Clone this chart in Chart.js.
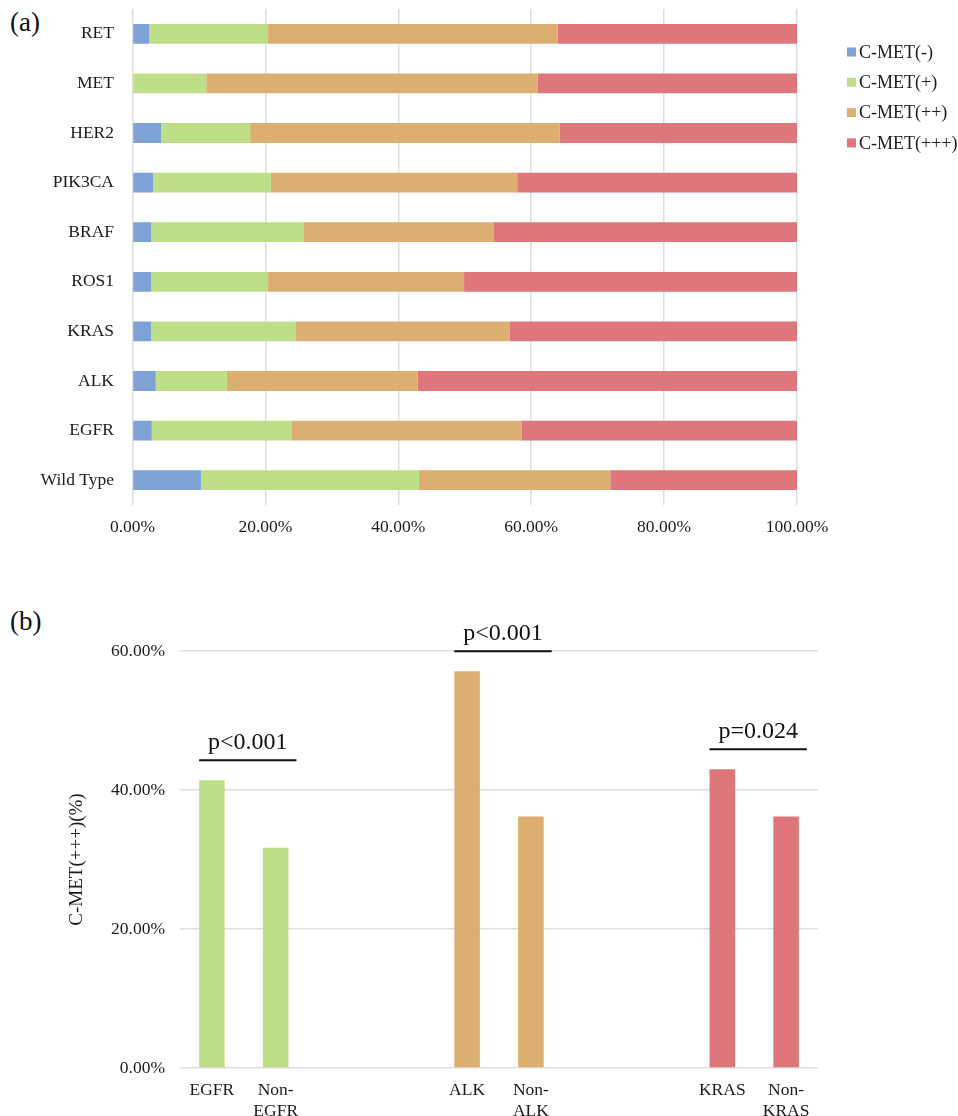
<!DOCTYPE html>
<html>
<head>
<meta charset="utf-8">
<script src="https://cdn.jsdelivr.net/npm/chart.js@4/dist/chart.umd.min.js"></script>
<style>
  html, body { margin: 0; padding: 0; background: #fff; }
  body { width: 958px; height: 1116px; position: relative; overflow: hidden; font-family: "Liberation Serif", "Times New Roman", serif; }
  .panel { position: absolute; left: 10px; font-size: 27px; color: #111; line-height: 1; }
  #wrapA { position: absolute; left: 0; top: 0; width: 958px; height: 550px; }
  #wrapB { position: absolute; left: 0; top: 590px; width: 958px; height: 526px; }
</style>
</head>
<body>
<div class="panel" style="top:9px">(a)</div>
<div class="panel" style="top:608px">(b)</div>
<div id="wrapA"><canvas id="stackChart"></canvas></div>
<div id="wrapB"><canvas id="plusChart"></canvas></div>

<script>
// === Data: (a) C-MET expression by driver gene (%) ===
const genes = ["RET", "MET", "HER2", "PIK3CA", "BRAF", "ROS1", "KRAS", "ALK", "EGFR", "Wild Type"];
const metNeg = [2.5, 0, 4.3, 3.1, 2.8, 2.8, 2.8, 3.5, 2.9, 10.3];
const metPlus1 = [17.9, 11.1, 13.4, 17.7, 23.0, 17.6, 21.7, 10.7, 21.0, 32.8];
const metPlus2 = [43.6, 49.9, 46.6, 37.1, 28.6, 29.5, 32.3, 28.7, 34.7, 28.8];
const metPlus3 = [36.0, 39.0, 35.7, 42.1, 45.6, 50.1, 43.2, 57.1, 41.4, 28.1];
const seriesNames = ["C-MET(-)", "C-MET(+)", "C-MET(++)", "C-MET(+++)"];
const xTicksA = [0, 20, 40, 60, 80, 100];

// === Data: (b) C-MET(+++) rate, mutant vs non-mutant ===
const groups = ["EGFR", ["Non-", "EGFR"], "", "", "ALK", ["Non-", "ALK"], "", "", "KRAS", ["Non-", "KRAS"]];
const plus3Rate = [41.4, 31.7, null, null, 57.1, 36.2, null, null, 43.0, 36.2];
const pairs = [[0, 1], [4, 5], [8, 9]];
const pLabels = ["p<0.001", "p<0.001", "p=0.024"];
const yTicksB = [0, 20, 40, 60];

const colors = ["#7ea2d6", "#bedf87", "#dcae70", "#df767b"];
const barColorsB = [colors[1], colors[1], null, null, colors[2], colors[2], null, null, colors[3], colors[3]];

const serif = "'Liberation Serif', 'Times New Roman', serif";
const textColor = "#1c1c1c";
const gridColor = "#dedede";
const pct = (v) => Number(v).toFixed(2) + "%";

// legend on the right of chart (a)
const sideLegend = {
  id: "sideLegend",
  afterDraw(chart) {
    const { ctx, chartArea } = chart;
    ctx.save();
    ctx.font = "18px " + serif;
    ctx.textBaseline = "middle";
    chart.data.datasets.forEach((ds, i) => {
      const x = chartArea.right + 50;
      const y = chartArea.top + 43 + i * 30.3;
      ctx.fillStyle = ds.backgroundColor;
      ctx.fillRect(x, y - 4.5, 9, 9);
      ctx.fillStyle = textColor;
      ctx.fillText(ds.label, x + 12, y + 1);
    });
    ctx.restore();
  },
};

new Chart(document.getElementById("stackChart"), {
  type: "bar",
  data: {
    labels: genes,
    datasets: [metNeg, metPlus1, metPlus2, metPlus3].map((d, i) => ({
      label: seriesNames[i],
      data: d,
      backgroundColor: colors[i],
      barPercentage: 0.4,
      categoryPercentage: 1,
    })),
  },
  options: {
    indexAxis: "y",
    responsive: true,
    maintainAspectRatio: false,
    animation: false,
    layout: { padding: { left: 0, top: 9, right: 161, bottom: 0 } },
    plugins: { legend: { display: false }, tooltip: { enabled: false } },
    scales: {
      x: {
        stacked: true,
        min: 0,
        max: 100,
        afterBuildTicks: (s) => { s.ticks = xTicksA.map((v) => ({ value: v })); },
        afterFit: (s) => { s.height = 45; },
        ticks: { callback: pct, padding: 11.5, color: textColor, font: { family: serif, size: 17.5 } },
        grid: { color: gridColor, lineWidth: 1.5, drawTicks: false },
        border: { display: false },
      },
      y: {
        stacked: true,
        afterFit: (s) => { s.width = 132.5; s.paddingTop = 0; s.paddingBottom = 0; },
        ticks: { padding: 18.5, color: textColor, font: { family: serif, size: 17.5 } },
        grid: { display: false, drawTicks: false },
        border: { display: false },
      },
    },
  },
  plugins: [sideLegend],
});

// significance brackets above each pair in chart (b)
const pBrackets = {
  id: "pBrackets",
  afterDatasetsDraw(chart) {
    const { ctx } = chart;
    const bars = chart.getDatasetMeta(0).data;
    ctx.save();
    ctx.strokeStyle = "#111";
    ctx.lineWidth = 2;
    ctx.fillStyle = "#111";
    ctx.font = "24px " + serif;
    ctx.textAlign = "center";
    ctx.textBaseline = "alphabetic";
    pairs.forEach(([a, b], i) => {
      const left = bars[a].x - bars[a].width / 2;
      const right = bars[b].x + bars[b].width / 2 + 8;
      const y = Math.min(bars[a].y, bars[b].y) - 20;
      ctx.beginPath();
      ctx.moveTo(left, y);
      ctx.lineTo(right, y);
      ctx.stroke();
      ctx.fillText(pLabels[i], (left + right) / 2, y - 11);
    });
    ctx.restore();
  },
};

new Chart(document.getElementById("plusChart"), {
  type: "bar",
  data: {
    labels: groups,
    datasets: [{
      label: "C-MET(+++)",
      data: plus3Rate,
      backgroundColor: barColorsB,
      barPercentage: 0.4,
      categoryPercentage: 1,
    }],
  },
  options: {
    responsive: true,
    maintainAspectRatio: false,
    animation: false,
    layout: { padding: { left: 0, top: 61, right: 140, bottom: 0 } },
    plugins: { legend: { display: false }, tooltip: { enabled: false } },
    scales: {
      x: {
        afterFit: (s) => { s.height = 48; },
        ticks: { autoSkip: false, maxRotation: 0, padding: 11.5, color: textColor, font: { family: serif, size: 17.5 } },
        grid: { display: false, drawTicks: false },
        border: { display: false },
      },
      y: {
        min: 0,
        max: 60,
        afterBuildTicks: (s) => { s.ticks = yTicksB.map((v) => ({ value: v })); },
        afterFit: (s) => { s.width = 180; },
        ticks: { callback: pct, padding: 15, color: textColor, font: { family: serif, size: 17.5 } },
        grid: { color: gridColor, lineWidth: 1.5, drawTicks: false },
        border: { display: false },
        title: {
          display: true,
          text: "C-MET(+++)(%)",
          color: textColor,
          font: { family: serif, size: 19 },
          padding: { top: 65.5, bottom: 0 },
        },
      },
    },
  },
  plugins: [pBrackets],
});
</script>
</body>
</html>
